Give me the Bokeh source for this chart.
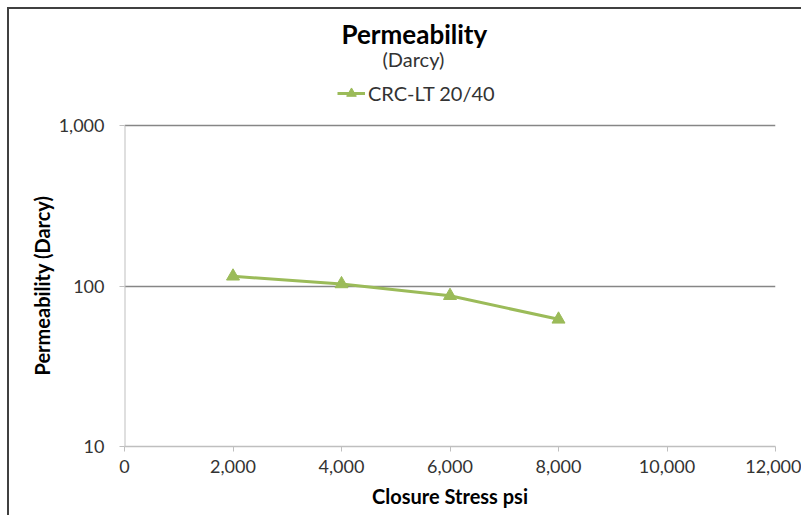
from bokeh.plotting import figure
from bokeh.models import (Legend, LegendItem, FixedTicker, NumeralTickFormatter, Title)
from bokeh.embed import file_html
from bokeh.resources import INLINE

# ---- data ----
closure_stress = [2000, 4000, 6000, 8000]
permeability = [115, 103, 87, 62]
series_name = "CRC-LT 20/40"
x_ticks = [0, 2000, 4000, 6000, 8000, 10000, 12000]
y_ticks = [10, 100, 1000]

FONT = "Lato"
GREEN = "#9BBB59"
TXT = "#333333"
AXIS = "#BFBFBF"

# the frame reaches up above the 1,000 line so that the legend can sit inside it
p = figure(width=794, height=508, output_backend="svg", toolbar_location=None,
           y_axis_type="log", x_range=(0, 12000), y_range=(10, 2140),
           min_border_left=115, min_border_right=28, min_border_top=63,
           min_border_bottom=71,
           styles={"margin-top": "7px", "margin-left": "7px",
                   "border-top": "2px solid #404040", "border-left": "2px solid #404040"})
p.outline_line_color = None
p.background_fill_color = "white"
p.border_fill_color = "white"

# y axis line only from the lowest to the highest tick
p.segment(x0=[x_ticks[0]], y0=[y_ticks[0]], x1=[x_ticks[0]], y1=[y_ticks[-1]],
          line_color=AXIS, line_width=2)

ln = p.line(closure_stress, permeability, line_color=GREEN, line_width=3)
sc = p.scatter(closure_stress, permeability, marker="triangle", size=13,
               fill_color=GREEN, line_color=GREEN)

# axes
p.xaxis.ticker = FixedTicker(ticks=x_ticks)
p.xaxis.formatter = NumeralTickFormatter(format="0,0")
p.yaxis.ticker = FixedTicker(ticks=y_ticks)
p.yaxis.formatter = NumeralTickFormatter(format="0,0")
for ax in (p.xaxis[0], p.yaxis[0]):
    ax.axis_line_color = AXIS
    ax.axis_line_width = 1.5
    ax.major_tick_line_color = AXIS
    ax.major_tick_out = 5
    ax.major_tick_in = 0
    ax.minor_tick_line_color = None
    ax.major_label_text_font = FONT
    ax.major_label_text_font_size = "18px"
    ax.major_label_text_color = TXT
    ax.axis_label_text_font = FONT
    ax.axis_label_text_font_size = "20px"
    ax.axis_label_text_font_style = "bold"
    ax.axis_label_text_color = "black"
p.yaxis.axis_line_color = None
p.xaxis.axis_label = "Closure Stress psi"
p.xaxis.major_label_standoff = 8
p.xaxis.axis_label_standoff = 8
p.yaxis.major_label_standoff = 15

# y axis title, placed beside the 10..1,000 part of the frame
p.add_layout(Title(text="Permeability (Darcy)", align="left", offset=71, standoff=4,
                   text_font=FONT, text_font_size="20px", text_font_style="bold",
                   text_color="black"), "left")

p.xgrid.grid_line_color = None
p.ygrid.ticker = FixedTicker(ticks=y_ticks[1:])
p.ygrid.grid_line_color = "#868686"
p.ygrid.grid_line_width = 1.5

legend = Legend(items=[LegendItem(label=series_name, renderers=[ln, sc])],
                location=(213, 341), orientation="horizontal",
                padding=0, margin=0, spacing=0, glyph_width=28, glyph_height=24,
                label_height=24, label_standoff=3,
                label_text_font=FONT, label_text_font_size="20px", label_text_color=TXT,
                border_line_color=None, background_fill_alpha=0)
p.add_layout(legend)

p.add_layout(Title(text="(Darcy)", align="left", offset=258, standoff=0,
                   vertical_align="top",
                   text_font=FONT, text_font_size="20px", text_font_style="normal",
                   text_color=TXT), "above")
p.add_layout(Title(text="Permeability", align="left", offset=217, standoff=-6,
                   text_font=FONT, text_font_size="26px", text_font_style="bold",
                   text_color="black"), "above")

open("out.html", "w").write(file_html(p, INLINE))
